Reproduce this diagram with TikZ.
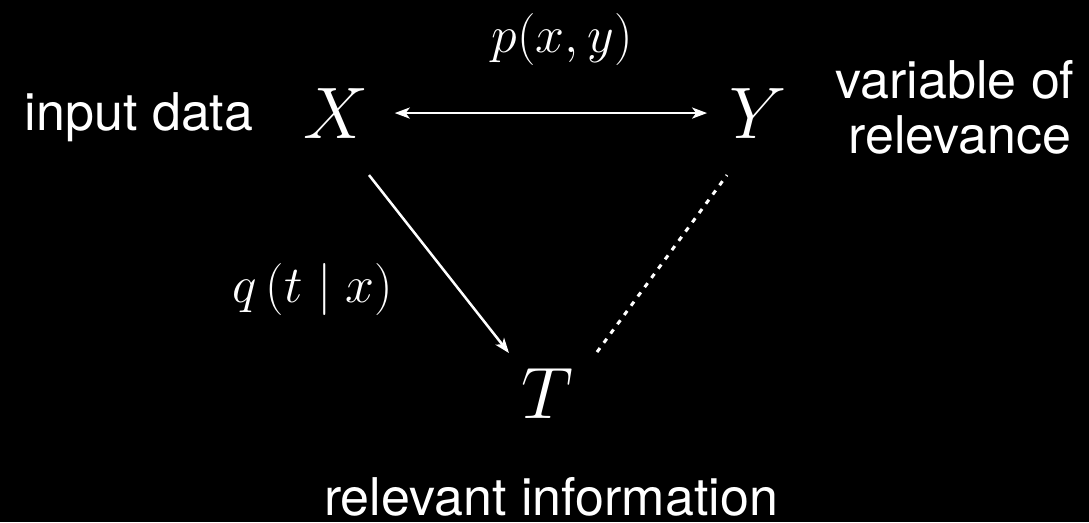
\RequirePackage{fix-cm}
\documentclass[tikz,border=0pt]{standalone}
\usepackage{fontspec}
\setsansfont{TeX Gyre Heros}
\usetikzlibrary{arrows.meta,calc}
\begin{document}
\begin{tikzpicture}[x=1pt,y=-1pt,
  >={Stealth[length=15pt,width=11pt,inset=4pt]},
  bigmath/.style={text=white,inner sep=0pt,anchor=base,font=\fontsize{73}{80}\selectfont},
  lblmath/.style={text=white,inner sep=0pt,anchor=base,font=\fontsize{52}{60}\selectfont},
  lbltext/.style={text=white,inner sep=0pt,anchor=base,font=\sffamily\fontsize{52}{60}\selectfont},
  conn/.style={draw=white,line width=2.5pt},
  dotline/.style={draw=white,line width=3pt,dash pattern=on 5pt off 6.5pt}]
\fill[black] (0,0) rectangle (1089,522);
\useasboundingbox (0,0) rectangle (1089,522);
\node[bigmath] (X) at (336,138) {$X$};
\node[bigmath] (Y) at (758,138) {$Y$};
\node[bigmath] (T) at (547,418) {$T$};
\node[lblmath] (pxy) at (562,52) {$p(x,y)$};
\node[lblmath] (qtx) at (313,302) {$q\,(t \mid x)$};
\node[lbltext] (inp) at (139,130) {input data};
\node[lbltext] (var1) at (955,98) {variable of};
\node[lbltext] (var2) at (960,153) {relevance};
\node[lbltext] (rel) at (551,515) {relevant information};
\draw[conn,<->,shorten <=26pt,shorten >=22pt] (X.east) -- (Y.west);
\draw[conn,->] ($(X.center)+(33,62)$) -- ($(T.center)+(-38,-40)$);
\draw[dotline] ($(T.center)+(50,-41)$) -- ($(Y.center)+(-31,62)$);
\end{tikzpicture}
\end{document}
